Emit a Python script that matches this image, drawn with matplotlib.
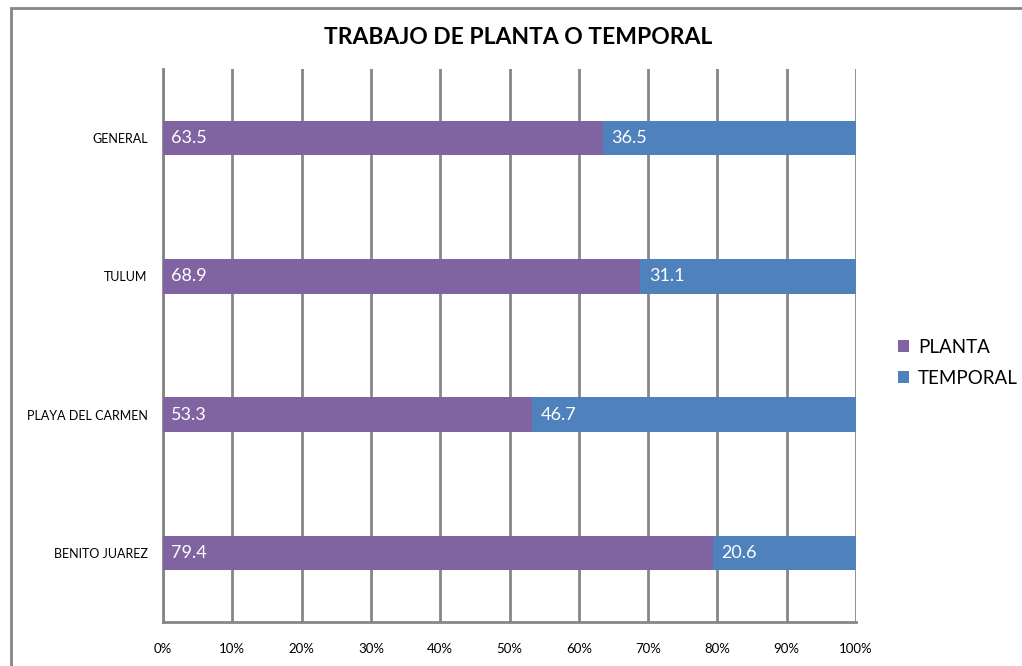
import numpy as np
import matplotlib.pyplot as plt
from matplotlib.patches import Rectangle

plt.rcParams['font.family'] = ['Lato', 'DejaVu Sans']

# data
categorias = ["BENITO JUAREZ", "PLAYA DEL CARMEN", "TULUM", "GENERAL"]
planta = [79.4, 53.3, 68.9, 63.5]
temporal = [20.6, 46.7, 31.1, 36.5]
xticks = [0, 10, 20, 30, 40, 50, 60, 70, 80, 90, 100]

col_planta = "#8064A2"
col_temporal = "#4F81BD"
gris = "#868686"

fig = plt.figure(figsize=(10.22, 6.66), dpi=100)
# marco del grafico
fig.patches.append(Rectangle((11/1022, -0.1), 1.2, 1 - 8/666 + 0.1, transform=fig.transFigure,
                             fill=False, edgecolor=gris, linewidth=2))

ax = fig.add_axes([163/1022, 1-622/666, 693/1022, 553/666])
y = np.arange(len(categorias))
b1 = ax.barh(y, planta, height=0.25, color=col_planta, label="PLANTA", zorder=3)
b2 = ax.barh(y, temporal, left=planta, height=0.25, color=col_temporal, label="TEMPORAL", zorder=3)

for i in range(len(categorias)):
    ax.text(1.2, y[i], f"{planta[i]}", color="white", fontsize=13, va="center", ha="left", zorder=4)
    ax.text(planta[i] + 1.2, y[i], f"{temporal[i]}", color="white", fontsize=13, va="center", ha="left", zorder=4)

ax.set_xlim(0, 100)
ax.set_ylim(-0.5, 3.5)
ax.set_xticks(xticks)
ax.set_xticklabels([f"{t}%" for t in xticks], fontsize=9.5)
ax.set_yticks(y)
ax.set_yticklabels(categorias, fontsize=9)
ax.tick_params(length=0)
ax.tick_params(axis='x', pad=15)
ax.tick_params(axis='y', pad=11)
ax.grid(axis='x', color=gris, linewidth=2, zorder=0)
for s in ["top", "right"]:
    ax.spines[s].set_visible(False)
ax.spines["left"].set_color(gris)
ax.spines["left"].set_linewidth(2)
ax.spines["bottom"].set_color(gris)
ax.spines["bottom"].set_linewidth(2)

fig.text(518/1022, 1-37/666, "TRABAJO DE PLANTA O TEMPORAL", fontsize=16.5, fontweight="bold",
         ha="center", va="center")

fig.legend(handles=[b1, b2], loc="center left", bbox_to_anchor=(890/1022, 1-363/666),
           frameon=False, fontsize=13.5, handlelength=0.6, handleheight=0.6, handletextpad=0.5,
           labelspacing=0.75, borderaxespad=0)

fig.savefig("out.png", dpi=100)
